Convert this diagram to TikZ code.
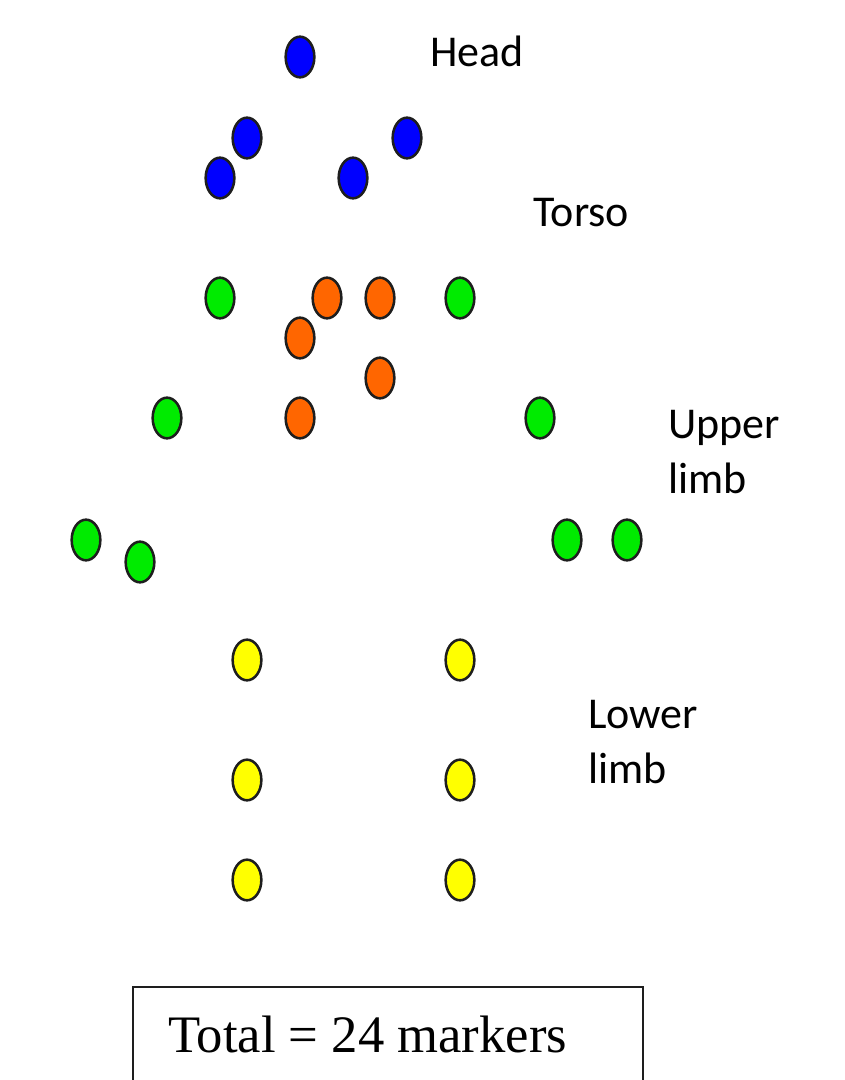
\documentclass[tikz,border=0pt]{standalone}
\usepackage{fontspec}
\setmainfont{Liberation Serif}
\newfontfamily\lblfont{Carlito}
\usetikzlibrary{shapes.geometric}
\definecolor{mblue}{RGB}{0,0,255}
\definecolor{mgreen}{RGB}{0,235,0}
\definecolor{morange}{RGB}{255,102,0}
\definecolor{myellow}{RGB}{255,255,0}
\definecolor{mline}{RGB}{30,30,30}
\tikzset{
  marker/.style={ellipse, draw=mline, line width=1.9pt, minimum width=21.5pt, minimum height=30.5pt, inner sep=0pt},
  bm/.style={marker, fill=mblue},
  gm/.style={marker, fill=mgreen},
  om/.style={marker, fill=morange},
  ym/.style={marker, fill=myellow},
  lbl/.style={font=\lblfont\fontsize{33}{41}\selectfont, anchor=base west, inner sep=0pt, align=left},
}
\begin{document}
\begin{tikzpicture}[x=0.75pt,y=-0.75pt]
\clip (0,0) rectangle (844,1080);
\fill[white] (0,0) rectangle (844,1080);
% head
\node[bm] (h1) at (300,57) {};
\node[bm] (h2) at (247,138) {};
\node[bm] (h3) at (407,138) {};
\node[bm] (h4) at (220,178) {};
\node[bm] (h5) at (353,178) {};
% torso
\node[gm] (s1) at (220,298) {};
\node[gm] (s2) at (460,298) {};
\node[om] (t1) at (327,298) {};
\node[om] (t2) at (380,298) {};
\node[om] (t3) at (300,338) {};
\node[om] (t4) at (380,378) {};
\node[om] (t5) at (300,418) {};
% upper limb
\node[gm] (e1) at (167,418) {};
\node[gm] (e2) at (540,418) {};
\node[gm] (w1) at (86,540) {};
\node[gm] (w2) at (140,562) {};
\node[gm] (w3) at (567,540) {};
\node[gm] (w4) at (627,540) {};
% lower limb
\node[ym] (l1) at (247,660) {};
\node[ym] (l2) at (460,660) {};
\node[ym] (l3) at (247,780) {};
\node[ym] (l4) at (460,780) {};
\node[ym] (l5) at (247,880) {};
\node[ym] (l6) at (460,880) {};
% labels
\node[lbl] (head) at (430,67) {Head};
\node[lbl] (torso) at (533,227) {Torso};
\node[lbl] (upper) at (668,493) {Upper\\limb};
\node[lbl] (lower) at (588,783) {Lower\\limb};
% total box
\draw[draw=mline, line width=2.2pt] (133,987) rectangle (643,1120);
\node[font=\fontsize{39.5}{48}\selectfont, anchor=base west, inner sep=0pt] (total) at (168,1052) {Total = 24 markers};
\end{tikzpicture}
\end{document}
